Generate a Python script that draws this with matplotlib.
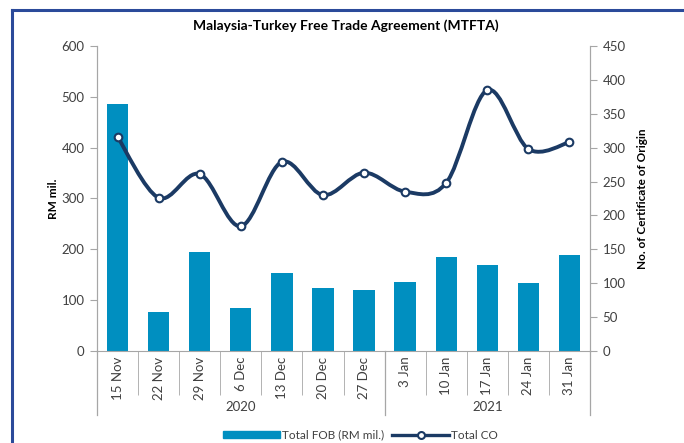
import matplotlib
matplotlib.use("Agg")
import matplotlib.pyplot as plt
from matplotlib.path import Path
from matplotlib.patches import PathPatch, Rectangle
from matplotlib.lines import Line2D
import numpy as np

plt.rcParams["font.family"] = ["Lato", "DejaVu Sans"]

semanas = ["15 Nov", "22 Nov", "29 Nov", "6 Dec", "13 Dec", "20 Dec", "27 Dec",
           "3 Jan", "10 Jan", "17 Jan", "24 Jan", "31 Jan"]
anios = ["2020", "2021"]
semanas_por_anio = [7, 5]
fob = [486, 77, 195, 85, 153, 124, 120, 136, 185, 169, 134, 189]
co = [316, 226, 261, 184, 279, 230, 263, 235, 248, 385, 298, 308]

AZUL_BARRA = "#008FC0"
AZUL_LINEA = "#1B3A64"
GRIS = "#A6A6A6"
TEXTO = "#404040"

fig = plt.figure(figsize=(6.84, 4.43), dpi=100)
ax = fig.add_axes([0.1418, 0.2077, 0.7208, 0.6885])
ax2 = ax.twinx()

x = np.arange(len(semanas))
ax.bar(x, fob, width=0.52, color=AZUL_BARRA, zorder=2)
ax.set_xlim(-0.5, len(semanas) - 0.5)
ax.set_ylim(0, 600)
ax.set_yticks(range(0, 601, 100))
ax2.set_ylim(0, 450)
ax2.set_yticks(range(0, 451, 50))

# línea suavizada tipo Excel (Bézier por Catmull-Rom)
pts = np.column_stack([x, co]).astype(float)
ext = np.vstack([pts[0], pts, pts[-1]])
verts = [tuple(pts[0])]
codes = [Path.MOVETO]
for i in range(len(pts) - 1):
    p0, p1, p2, p3 = ext[i], ext[i + 1], ext[i + 2], ext[i + 3]
    c1 = p1 + (p2 - p0) / 6
    c2 = p2 - (p3 - p1) / 6
    verts += [tuple(c1), tuple(c2), tuple(p2)]
    codes += [Path.CURVE4] * 3
ax2.add_patch(PathPatch(Path(verts, codes), fill=False, edgecolor=AZUL_LINEA,
                        lw=2.8, capstyle="round", joinstyle="round", zorder=3))
ax2.plot(x, co, ls="none", marker="o", ms=5.5, mfc="white", mec=AZUL_LINEA,
         mew=1.5, zorder=4)

for a in (ax, ax2):
    a.spines["top"].set_visible(False)
    for s in ("left", "right", "bottom"):
        a.spines[s].set_color(GRIS)
    a.tick_params(axis="y", colors=GRIS, labelcolor=TEXTO, labelsize=9.5,
                  length=5, pad=4)
ax2.spines["bottom"].set_visible(False)

ax.set_xticks(x)
ax.set_xticklabels(semanas, rotation=90, fontsize=9.5, color=TEXTO)
ax.tick_params(axis="x", length=0, pad=4)
ax.set_xticks(np.arange(-0.5, len(semanas), 1), minor=True)
ax.tick_params(axis="x", which="minor", length=32, color=GRIS)

ax.set_ylabel("RM mil.", fontsize=8.5, fontweight="bold", labelpad=2)
ax2.set_ylabel("No. of Certificate of Origin", fontsize=8.5, fontweight="bold",
               labelpad=8)

# separadores y etiquetas de año
inicio = -0.5
tr = ax.get_xaxis_transform()
for k, (anio, n) in enumerate(zip(anios, semanas_por_anio)):
    fin = inicio + n
    ax.text((inicio + fin) / 2, -0.185, anio, transform=tr, ha="center",
            va="center", fontsize=9.5, color=TEXTO)
    ax.plot([inicio, inicio], [0, -0.21], transform=tr, color=GRIS, lw=0.9,
            clip_on=False)
    inicio = fin
ax.plot([inicio, inicio], [0, -0.21], transform=tr, color=GRIS, lw=0.9,
        clip_on=False)

fig.text(0.505, 0.942, "Malaysia-Turkey Free Trade Agreement (MTFTA)",
         ha="center", va="center", fontsize=10, fontweight="bold")

manejadores = [Rectangle((0, 0), 1, 1, color=AZUL_BARRA),
               Line2D([], [], color=AZUL_LINEA, lw=2.4, marker="o", ms=5,
                      mfc="white", mec=AZUL_LINEA, mew=1.5)]
fig.legend(manejadores, ["Total FOB (RM mil.)", "Total CO"], loc="center",
           bbox_to_anchor=(0.527, 0.018), ncol=2, frameon=False, fontsize=8.5,
           handlelength=4.8, handleheight=0.6, columnspacing=0.7, handletextpad=0.15,
           labelcolor=TEXTO)

# marco azul
fig.add_artist(Line2D([0.017, 1.0], [0.977, 0.977], transform=fig.transFigure,
                      color="#2B4A9A", lw=2.2))
fig.add_artist(Line2D([0.017, 0.017], [0.977, 0.0], transform=fig.transFigure,
                      color="#2B4A9A", lw=2.2))

plt.savefig("out.png", dpi=100)
